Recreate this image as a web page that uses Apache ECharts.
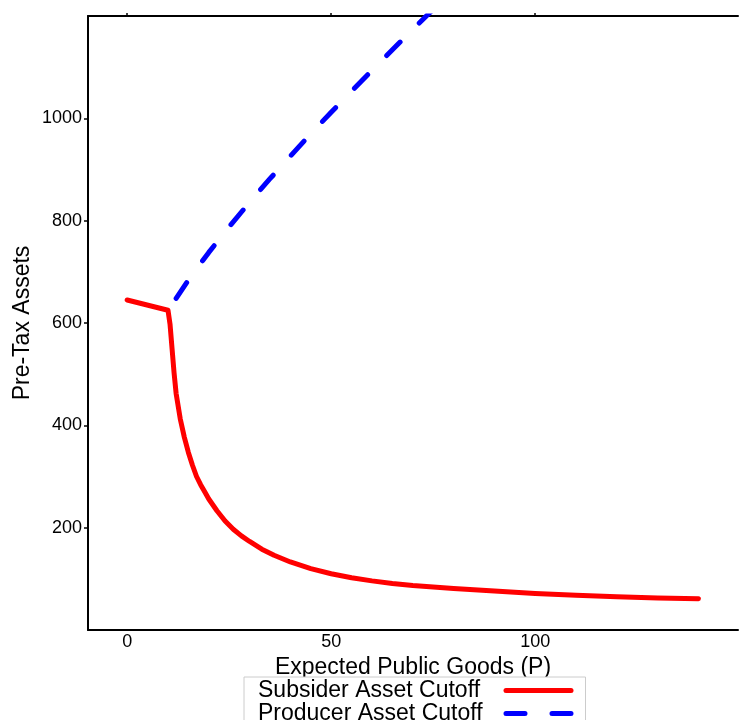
<!DOCTYPE html>
<html>
<head>
<meta charset="utf-8">
<script src="https://cdn.jsdelivr.net/npm/echarts@6/dist/echarts.min.js"></script>
<style>
  html, body { margin: 0; padding: 0; background: #fff; }
  #chart { width: 739px; height: 720px; }
</style>
</head>
<body>
<div id="chart"></div>
<script>
// values
const subsiderP = [0, 10, 10.5, 11, 11.5, 12, 13, 14, 15, 16, 17, 18, 19, 20, 22, 24, 26, 28, 30, 33, 36, 40, 45, 50, 55, 60, 65, 70, 80, 90, 100, 110, 120, 130, 140];
const subsiderCutoff = [645, 625, 598, 550, 502, 462, 413, 377, 347, 322, 300, 284, 270, 256, 233, 213, 197, 184, 173, 158, 146, 133, 120, 110, 102, 96, 91, 87, 81, 76, 71.5, 68, 65, 62.5, 61];
const producerP = [12, 15, 20, 25, 30, 35, 40, 45, 50, 55, 60, 65, 70, 75, 80];
const producerCutoff = [648, 684, 738, 788, 836, 882, 926, 970, 1012, 1053, 1094, 1134, 1174, 1213, 1252];
const xTicks = [0, 50, 100];
const yTicks = [200, 400, 600, 800, 1000];

const font = 'Liberation Sans, Arial, sans-serif';
const toPairs = (xs, ys) => xs.map((x, i) => [x, ys[i]]);

const myChart = echarts.init(document.getElementById('chart'));
const option = {
  animation: false,
  textStyle: { fontFamily: font, color: '#000' },
  grid: {
    left: 88,
    right: 1,
    top: 16,
    bottom: 90,
    outerBoundsMode: 'none',
  },
  legend: {
    orient: 'vertical',
    align: 'right',
    left: 244,
    top: 677,
    height: 60,
    padding: [2, 12, 2, 14],
    itemGap: 0,
    itemWidth: 65,
    itemHeight: 8,
    borderColor: '#cccccc',
    borderWidth: 1,
    backgroundColor: '#fff',
    lineStyle: { width: 5 },
    itemStyle: { opacity: 0 },
    formatter: (name) => '{t|' + name + '}',
    textStyle: {
      fontFamily: font,
      fontSize: 23,
      color: '#000',
      rich: {
        t: {
          fontFamily: font,
          fontSize: 23,
          lineHeight: 22,
          width: 243,
          align: 'left',
          color: '#000',
        },
      },
    },
    data: ['Subsider Asset Cutoff', 'Producer Asset Cutoff'],
  },
  xAxis: [
    {
      type: 'value',
      position: 'bottom',
      min: -9.6,
      max: 149.7,
      name: 'Expected Public Goods (P)',
      nameLocation: 'middle',
      nameGap: 26,
      nameTextStyle: { fontFamily: font, fontSize: 23, color: '#000', verticalAlign: 'top' },
      axisLine: { onZero: false, lineStyle: { color: '#000', width: 2 } },
      axisTick: { show: false },
      axisLabel: {
        customValues: xTicks,
        fontFamily: font,
        fontSize: 18,
        color: '#000',
        margin: 3,
      },
      splitLine: { show: false },
    },
    {
      type: 'value',
      position: 'top',
      min: -9.6,
      max: 149.7,
      axisLine: { onZero: false, lineStyle: { color: '#000', width: 2 } },
      axisTick: {
        customValues: xTicks,
        length: 3,
        lineStyle: { color: '#000', width: 1.5 },
      },
      axisLabel: { show: false },
      splitLine: { show: false },
    },
  ],
  yAxis: {
    type: 'value',
    min: 0,
    max: 1200,
    name: 'Pre-Tax Assets',
    nameLocation: 'middle',
    nameRotate: 90,
    nameGap: 54,
    nameMoveOverlap: false,
    nameTextStyle: { fontFamily: font, fontSize: 23, color: '#000' },
    axisLine: { show: true, onZero: false, lineStyle: { color: '#000', width: 2 } },
    axisTick: {
      show: true,
      customValues: yTicks,
      length: 4,
      lineStyle: { color: '#000', width: 1.5 },
    },
    axisLabel: {
      customValues: yTicks,
      formatter: (v) => String(v),
      fontFamily: font,
      fontSize: 18,
      color: '#000',
      margin: 6,
    },
    splitLine: { show: false },
  },
  series: [
    {
      name: 'Subsider Asset Cutoff',
      type: 'line',
      xAxisIndex: 0,
      data: toPairs(subsiderP, subsiderCutoff),
      showSymbol: false,
      symbol: 'none',
      smooth: false,
      clip: true,
      lineStyle: { color: '#ff0000', width: 5, cap: 'round', join: 'round' },
      itemStyle: { color: '#ff0000' },
    },
    {
      name: 'Producer Asset Cutoff',
      type: 'line',
      xAxisIndex: 0,
      data: toPairs(producerP, producerCutoff),
      showSymbol: false,
      symbol: 'none',
      smooth: false,
      clip: true,
      lineStyle: { color: '#0000ff', width: 5, type: [19, 27], cap: 'round', join: 'round' },
      itemStyle: { color: '#0000ff' },
    },
  ],
};
myChart.setOption(option);
window.addEventListener('resize', () => {
  myChart.resize();
});
</script>
</body>
</html>
